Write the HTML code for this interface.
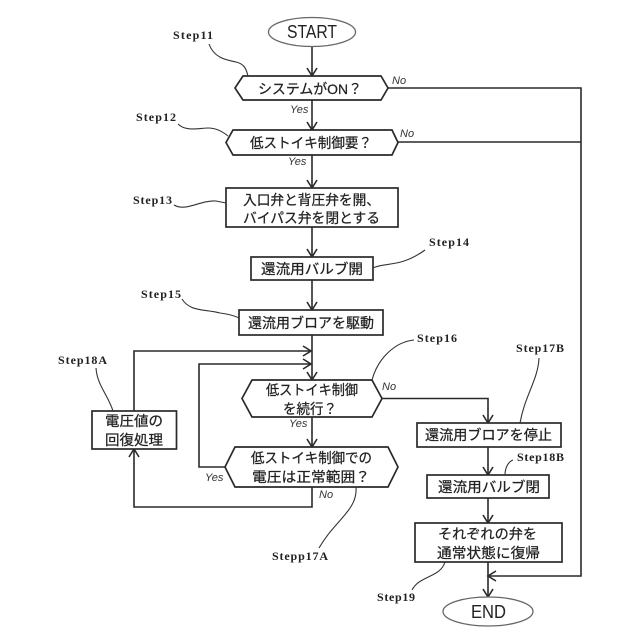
<!DOCTYPE html>
<html>
<head>
<meta charset="utf-8">
<style>
html,body{margin:0;padding:0;background:#fff;}
svg{display:block;}
.jp{font-family:"Liberation Sans","Noto Sans CJK JP",sans-serif;font-size:14px;fill:#222;stroke:#222;stroke-width:0.25;}
.st{font-family:"Liberation Serif",serif;font-weight:bold;font-size:12px;fill:#222;}
.yn{font-family:"Liberation Sans",sans-serif;font-style:italic;font-size:11px;fill:#333;}
.en{font-family:"Liberation Sans",sans-serif;font-size:18px;fill:#222;}
.b{fill:#fff;stroke:#2a2a2a;stroke-width:1.7;}
.e{fill:#fff;stroke:#666;stroke-width:1.3;}
.l{fill:none;stroke:#2a2a2a;stroke-width:1.6;}
.c{fill:none;stroke:#333;stroke-width:1.1;}
</style>
</head>
<body>
<svg width="640" height="640" viewBox="0 0 640 640" xmlns="http://www.w3.org/2000/svg">
<rect width="640" height="640" fill="#fff"/>

<!-- connectors -->
<path class="l" d="M312 46V76M312 100V130M312 155V188M312 227V257M312 280V310M312 335V380M312 417V447"/>
<path class="l" d="M488 447V475M488 498V523M488 562V597"/>
<path class="l" d="M388 88H581V576H488M398 142H581"/>
<path class="l" d="M382 398.500H488V423"/>
<path class="l" d="M134 411V351H311M225 467H199V364H311"/>
<path class="l" d="M312 487V507H134V449"/>

<!-- arrowheads -->
<path class="l" d="M307 68L312 76L317 68M307 122L312 130L317 122M307 180L312 188L317 180M307 249L312 257L317 249M307 302L312 310L317 302M307 372L312 380L317 372M307 439L312 447L317 439"/>
<path class="l" d="M483 415L488 423L493 415M483 467L488 475L493 467M483 515L488 523L493 515M483 589L488 597L493 589"/>
<path class="l" d="M303 346L311 351L303 356M303 359L311 364L303 369"/>
<path class="l" d="M129 457L134 449L139 457"/>
<path class="l" d="M496 571L488 576L496 581"/>

<!-- shapes -->
<ellipse class="e" cx="312" cy="32" rx="43.500" ry="14.500"/>
<polygon class="b" points="235,88 243,76 381,76 388,88 381,100 243,100"/>
<polygon class="b" points="226,142.500 233,130 392,130 398,142.500 392,155 233,155"/>
<rect class="b" x="226" y="188" width="172" height="39"/>
<rect class="b" x="251" y="257" width="122" height="23"/>
<rect class="b" x="239" y="310" width="144" height="25"/>
<polygon class="b" points="242,398.500 252,380 372,380 382,398.500 372,417 252,417"/>
<polygon class="b" points="225,467 235,447 388,447 398,467 388,487 235,487"/>
<rect class="b" x="92" y="411" width="84.500" height="38"/>
<rect class="b" x="417" y="423" width="144" height="24"/>
<rect class="b" x="427" y="475" width="122" height="23"/>
<rect class="b" x="415" y="523" width="147" height="39"/>
<ellipse class="e" cx="488" cy="611.500" rx="45" ry="14.500"/>

<!-- leader curves -->
<path class="c" d="M209 44C214 58 226 60 236 62C244 64 246 68 248 76"/>
<path class="c" d="M178 124C186 132 200 128 208 128C216 128 222 131 228 136"/>
<path class="c" d="M174 205C186 212 200 200 216 201L226 203"/>
<path class="c" d="M373 268C385 262 400 268 425 250"/>
<path class="c" d="M182 299C190 312 205 309 220 313C228 314 233 315 239 318"/>
<path class="c" d="M414 340C395 342 378 358 372 380"/>
<path class="c" d="M539 358C538 380 525 395 520 423"/>
<path class="c" d="M513 460C508 462 505 468 505 475"/>
<path class="c" d="M96 368C97 385 108 395 113 411"/>
<path class="c" d="M356 487C358 510 335 520 319 548"/>
<path class="c" d="M445 562C440 578 420 575 412 590"/>

<!-- main text -->
<text class="en" x="287" y="38" textLength="50" lengthAdjust="spacingAndGlyphs">START</text>
<text class="en" x="471" y="618" textLength="35" lengthAdjust="spacingAndGlyphs">END</text>

<text class="jp" x="258" y="94" textLength="104" lengthAdjust="spacingAndGlyphs">システムがON？</text>
<text class="jp" x="250" y="148" textLength="122" lengthAdjust="spacingAndGlyphs">低ストイキ制御要？</text>
<text class="jp" x="243" y="205" textLength="137" lengthAdjust="spacingAndGlyphs">入口弁と背圧弁を開、</text>
<text class="jp" x="243" y="223" textLength="137" lengthAdjust="spacingAndGlyphs">バイパス弁を閉とする</text>
<text class="jp" x="261" y="274" textLength="102" lengthAdjust="spacingAndGlyphs">還流用バルブ開</text>
<text class="jp" x="248" y="328" textLength="126" lengthAdjust="spacingAndGlyphs">還流用ブロアを駆動</text>
<text class="jp" x="266" y="395" textLength="92" lengthAdjust="spacingAndGlyphs">低ストイキ制御</text>
<text class="jp" x="283" y="414" textLength="54" lengthAdjust="spacingAndGlyphs">を続行？</text>
<text class="jp" x="251" y="463" textLength="121" lengthAdjust="spacingAndGlyphs">低ストイキ制御での</text>
<text class="jp" x="252" y="482" textLength="118" lengthAdjust="spacingAndGlyphs">電圧は正常範囲？</text>
<text class="jp" x="105" y="426" textLength="58" lengthAdjust="spacingAndGlyphs">電圧値の</text>
<text class="jp" x="105" y="445" textLength="58" lengthAdjust="spacingAndGlyphs">回復処理</text>
<text class="jp" x="425" y="440" textLength="127" lengthAdjust="spacingAndGlyphs">還流用ブロアを停止</text>
<text class="jp" x="438" y="492" textLength="102" lengthAdjust="spacingAndGlyphs">還流用バルブ閉</text>
<text class="jp" x="438" y="539" textLength="99" lengthAdjust="spacingAndGlyphs">それぞれの弁を</text>
<text class="jp" x="437" y="558" textLength="103" lengthAdjust="spacingAndGlyphs">通常状態に復帰</text>

<!-- step labels -->
<text class="st" x="173" y="39" textLength="40">Step11</text>
<text class="st" x="136" y="121" textLength="40">Step12</text>
<text class="st" x="133" y="204" textLength="39">Step13</text>
<text class="st" x="429" y="246" textLength="40">Step14</text>
<text class="st" x="141" y="298" textLength="40">Step15</text>
<text class="st" x="417" y="342" textLength="40">Step16</text>
<text class="st" x="516" y="352" textLength="48">Step17B</text>
<text class="st" x="517" y="461" textLength="47">Step18B</text>
<text class="st" x="58" y="364" textLength="49">Step18A</text>
<text class="st" x="272" y="560" textLength="56">Stepp17A</text>
<text class="st" x="377" y="601" textLength="38">Step19</text>

<!-- yes / no -->
<text class="yn" x="392" y="84">No</text>
<text class="yn" x="290" y="113">Yes</text>
<text class="yn" x="400" y="137">No</text>
<text class="yn" x="288" y="165">Yes</text>
<text class="yn" x="382" y="390">No</text>
<text class="yn" x="289" y="427">Yes</text>
<text class="yn" x="205" y="481">Yes</text>
<text class="yn" x="319" y="498">No</text>
</svg>
</body>
</html>
